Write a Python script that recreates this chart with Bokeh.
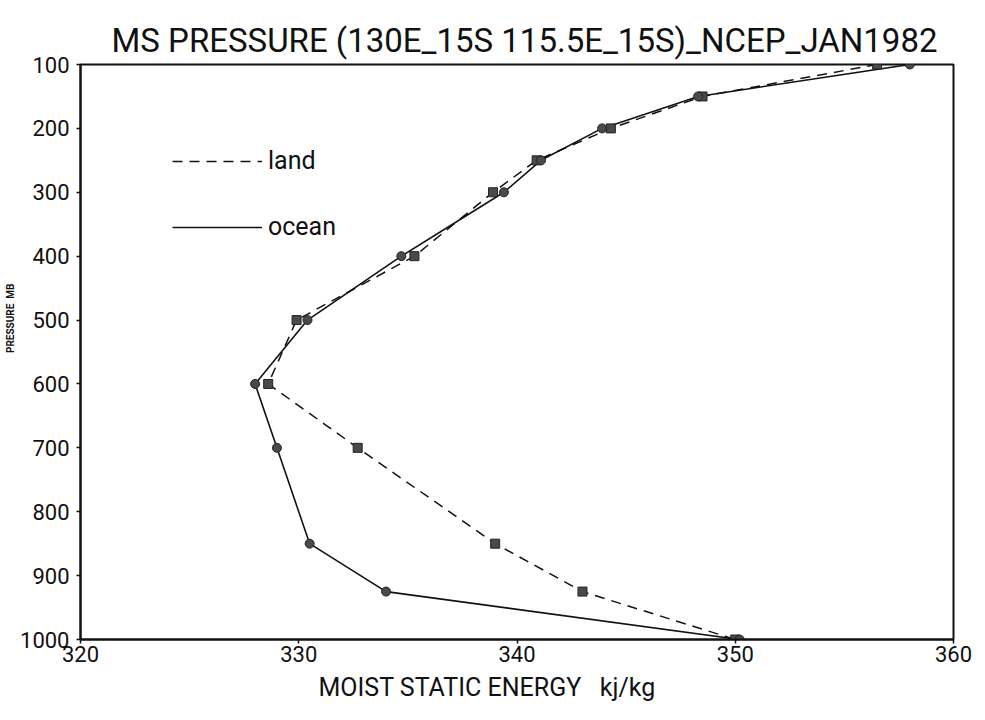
from bokeh.plotting import figure
from bokeh.models import Range1d, Legend, LegendItem, FixedTicker, Title
from bokeh.embed import file_html
from bokeh.resources import INLINE

# Data
levels = [100, 150, 200, 250, 300, 400, 500, 600, 700, 850, 925, 1000]
land = [356.5, 348.5, 344.3, 340.9, 338.9, 335.3, 329.9, 328.6, 332.7, 339.0, 343.0, 350.0]
ocean = [358.0, 348.3, 343.9, 341.1, 339.4, 334.7, 330.4, 328.0, 329.0, 330.5, 334.0, 350.2]
x_ticks = [320, 330, 340, 350, 360]
y_ticks = [100, 200, 300, 400, 500, 600, 700, 800, 900, 1000]

FONT = "Roboto"

p = figure(frame_width=873, frame_height=575, output_backend="svg", toolbar_location=None,
           x_range=Range1d(320, 360), y_range=Range1d(1000, 100))
p.min_border_left = 79
p.min_border_right = 25
p.min_border_top = 64
p.min_border_bottom = 66

main_title = Title(text="MS PRESSURE (130E_15S 115.5E_15S)_NCEP_JAN1982", align="left", offset=31,
                   text_font=FONT, text_font_size="33px", text_font_style="normal",
                   text_color="#111111")
p.add_layout(main_title, "above")

p.grid.visible = False
p.outline_line_color = "#111111"
p.outline_line_width = 2
p.outline_line_alpha = 1

p.xaxis.ticker = FixedTicker(ticks=x_ticks)
p.yaxis.ticker = FixedTicker(ticks=y_ticks)
for ax in (p.xaxis[0], p.yaxis[0]):
    ax.axis_line_color = "#111111"
    ax.axis_line_width = 2
    ax.major_tick_line_color = "#111111"
    ax.major_tick_line_width = 1.5
    ax.major_tick_out = 4
    ax.major_tick_in = 0
    ax.minor_tick_line_color = None
    ax.major_label_text_font = FONT
    ax.major_label_text_font_size = "22px"
    ax.major_label_text_color = "#111111"

p.xaxis.major_label_standoff = 2
p.yaxis.major_label_standoff = 7

x_title = Title(text="MOIST STATIC ENERGY\u00a0\u00a0\u00a0kj/kg", align="left", offset=238,
                text_font=FONT, text_font_size="25px", text_font_style="normal",
                text_color="#111111", standoff=12)
p.add_layout(x_title, "below")

y_title = Title(text="PRESSURE\u00a0\u00a0MB", align="right", offset=219,
                text_font=FONT, text_font_size="10px", text_font_style="bold",
                text_color="#111111", standoff=4)
p.add_layout(y_title, "left")

land_line = p.line(land, levels, line_color="#111111", line_width=1.5, line_dash="10 7")
ocean_line = p.line(ocean, levels, line_color="#111111", line_width=1.6)
p.scatter(land, levels, marker="square", size=9, fill_color="#4a4a4a", line_color="#222222", line_width=1)
p.scatter(ocean, levels, marker="circle", size=9, fill_color="#4a4a4a", line_color="#222222", line_width=1)

legend = Legend(items=[LegendItem(label="land", renderers=[land_line]),
                       LegendItem(label="ocean", renderers=[ocean_line])],
                location=(92, 398))
legend.glyph_width = 90
legend.glyph_height = 26
legend.label_height = 26
legend.spacing = 37
legend.padding = 0
legend.margin = 0
legend.label_standoff = 6
legend.label_text_font = FONT
legend.label_text_font_size = "25px"
legend.label_text_color = "#111111"
legend.border_line_alpha = 0
legend.background_fill_alpha = 0
p.add_layout(legend)

open("out.html", "w").write(file_html(p, INLINE))
